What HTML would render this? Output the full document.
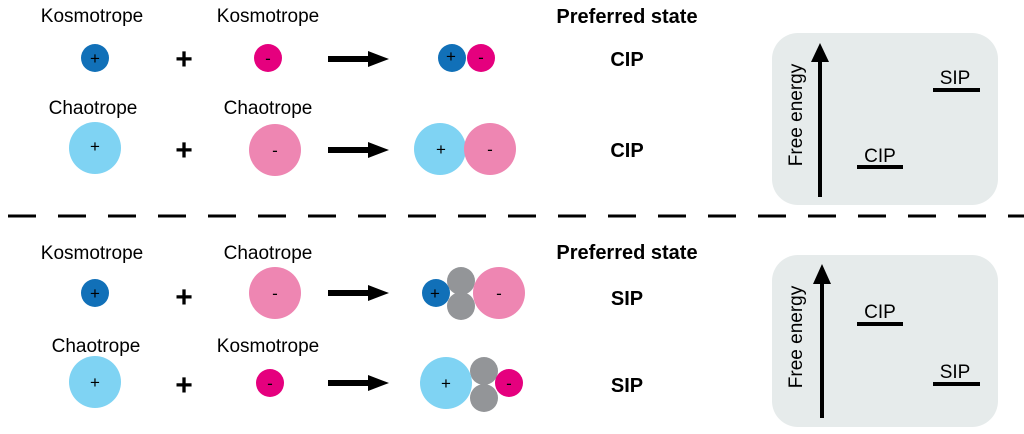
<!DOCTYPE html>
<html><head><meta charset="utf-8"><style>html,body{margin:0;padding:0;background:#fff}svg{display:block}</style></head>
<body>
<svg width="1024" height="434" viewBox="0 0 1024 434" xmlns="http://www.w3.org/2000/svg" font-family="Liberation Sans, sans-serif">
<g font-size="19" text-anchor="middle" fill="#000">
<text x="92" y="22">Kosmotrope</text>
<text x="268" y="22">Kosmotrope</text>
<text x="93" y="114">Chaotrope</text>
<text x="268" y="114">Chaotrope</text>
<text x="92" y="259">Kosmotrope</text>
<text x="268" y="259">Chaotrope</text>
<text x="96" y="352">Chaotrope</text>
<text x="268" y="352">Kosmotrope</text>
</g>
<g font-size="20" font-weight="bold" text-anchor="middle">
<text x="627" y="23">Preferred state</text>
<text x="627" y="66">CIP</text>
<text x="627" y="157">CIP</text>
<text x="627" y="259">Preferred state</text>
<text x="627" y="305">SIP</text>
<text x="627" y="392">SIP</text>
</g>
<g font-size="30" font-weight="bold" text-anchor="middle">
<text x="184" y="69">+</text><text x="184" y="160">+</text>
<text x="184" y="307">+</text><text x="184" y="395">+</text>
</g>
<g fill="#000">
<rect x="328" y="56" width="44" height="6"/><path d="M368,51 L389,59 L368,67 z"/>
<rect x="328" y="147" width="44" height="6"/><path d="M368,142 L389,150 L368,158 z"/>
<rect x="328" y="290" width="44" height="6"/><path d="M368,285 L389,293 L368,301 z"/>
<rect x="328" y="380" width="44" height="6"/><path d="M368,375 L389,383 L368,391 z"/>
</g>
<circle cx="95" cy="58" r="14" fill="#1170b8"/>
<circle cx="268" cy="58" r="14" fill="#e5007e"/>
<circle cx="452" cy="58" r="14" fill="#1170b8"/>
<circle cx="481" cy="58" r="14" fill="#e5007e"/>
<circle cx="95" cy="148" r="26" fill="#7fd3f3"/>
<circle cx="275" cy="150" r="26" fill="#ee86b2"/>
<circle cx="440" cy="149" r="26" fill="#7fd3f3"/>
<circle cx="490" cy="149" r="26" fill="#ee86b2"/>
<circle cx="95" cy="293" r="14" fill="#1170b8"/>
<circle cx="275" cy="293" r="26" fill="#ee86b2"/>
<circle cx="461" cy="281" r="14" fill="#939598"/>
<circle cx="461" cy="306" r="14" fill="#939598"/>
<circle cx="436" cy="293" r="14" fill="#1170b8"/>
<circle cx="499" cy="293" r="26" fill="#ee86b2"/>
<circle cx="95" cy="382" r="26" fill="#7fd3f3"/>
<circle cx="270" cy="383" r="14" fill="#e5007e"/>
<circle cx="484" cy="371" r="14" fill="#939598"/>
<circle cx="484" cy="398" r="14" fill="#939598"/>
<circle cx="446" cy="383" r="26" fill="#7fd3f3"/>
<circle cx="509" cy="383" r="14" fill="#e5007e"/>
<g font-size="17" text-anchor="middle">
<text x="95" y="64">+</text><text x="268" y="64">-</text>
<text x="451" y="62">+</text><text x="481" y="63">-</text>
<text x="95" y="152">+</text><text x="275" y="156">-</text>
<text x="441" y="155">+</text><text x="490" y="155">-</text>
<text x="95" y="299">+</text><text x="275" y="299">-</text>
<text x="435" y="299">+</text><text x="499" y="299">-</text>
<text x="95" y="388">+</text><text x="270" y="389">-</text>
<text x="446" y="389">+</text><text x="509" y="389">-</text>
</g>
<line x1="8" y1="216" x2="1024" y2="216" stroke="#000" stroke-width="3" stroke-dasharray="28 22"/>
<rect x="772" y="33" width="226" height="172" rx="26" fill="#e6ebeb"/>
<rect x="772" y="255" width="226" height="172" rx="26" fill="#e6ebeb"/>
<g stroke="#000" stroke-width="4">
<line x1="820" y1="197" x2="820" y2="60"/>
<line x1="822" y1="418" x2="822" y2="282"/>
<line x1="857" y1="167" x2="903" y2="167"/>
<line x1="933" y1="90" x2="980" y2="90"/>
<line x1="857" y1="324" x2="903" y2="324"/>
<line x1="933" y1="384" x2="980" y2="384"/>
</g>
<path d="M811,62 L820,43 L829,62 z" fill="#000"/>
<path d="M813,284 L822,264 L831,284 z" fill="#000"/>
<g font-size="19" text-anchor="middle">
<text x="880" y="162">CIP</text>
<text x="955" y="84">SIP</text>
<text x="880" y="318">CIP</text>
<text x="955" y="378">SIP</text>
<text transform="translate(802,115) rotate(-90)">Free energy</text>
<text transform="translate(802,337) rotate(-90)">Free energy</text>
</g>
</svg>
</body></html>
